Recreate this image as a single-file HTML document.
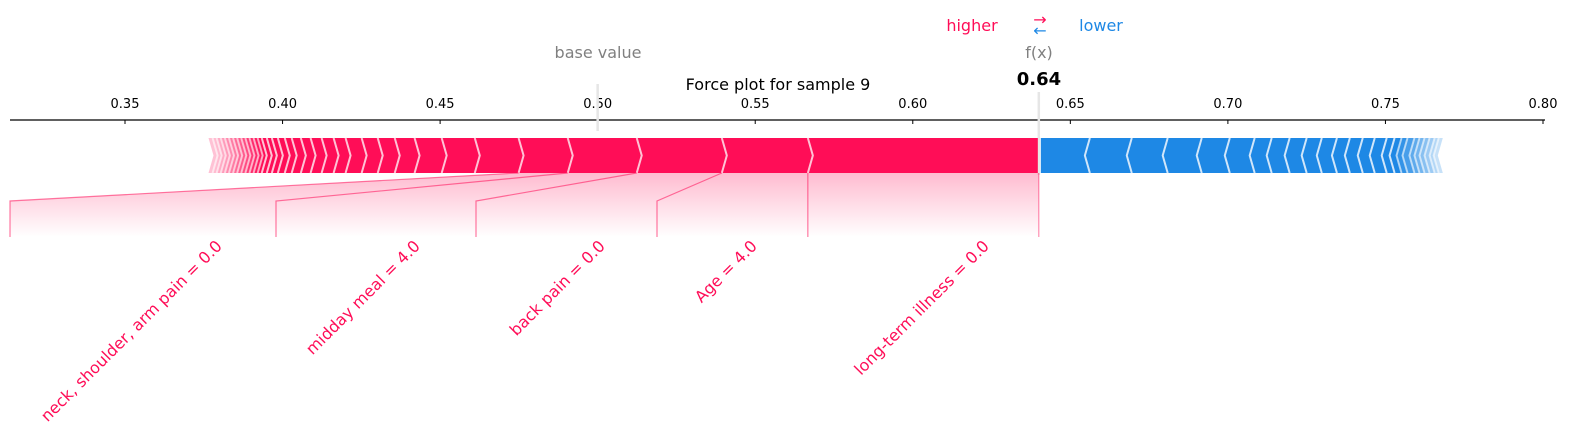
<!DOCTYPE html>
<html><head><meta charset="utf-8"><style>
html,body{margin:0;padding:0;background:#fff;}
svg{display:block;font-family:"DejaVu Sans","Liberation Sans",sans-serif;}
</style></head><body>
<svg id="chart" width="1581" height="433" viewBox="0 0 1581 433">
<defs>
<linearGradient id="fade" x1="0" y1="0" x2="0" y2="1">
<stop offset="0" stop-color="#ff0d57" stop-opacity="0.28"/>
<stop offset="1" stop-color="#ff0d57" stop-opacity="0"/>
</linearGradient>
</defs>
<g id="top-legend">
<text x="972" y="31" font-size="16" fill="#ff0d57" text-anchor="middle">higher</text>
<text x="1040" y="25" font-size="16" fill="#ff0d57" text-anchor="middle">→</text>
<text x="1040" y="36" font-size="16" fill="#1e88e5" text-anchor="middle">←</text>
<text x="1101" y="31" font-size="16" fill="#1e88e5" text-anchor="middle">lower</text>
</g>
<text x="598" y="58" font-size="16" fill="#808080" text-anchor="middle">base value</text>
<text x="1039" y="58" font-size="16" fill="#808080" text-anchor="middle">f(x)</text>
<text x="1039" y="85" font-size="18" font-weight="bold" fill="#000" text-anchor="middle">0.64</text>
<text x="778" y="90" font-size="16" fill="#000" text-anchor="middle">Force plot for sample 9</text>
<g id="axis"></g>
<g id="shade"></g>
<g id="bars"></g>
<g id="labels"></g>
</svg>
<script>
const ticks = [0.35,0.40,0.45,0.50,0.55,0.60,0.65,0.70,0.75,0.80];
const baseValue = 0.5;
const fx = 0.64;
const redNames = ["long-term illness = 0.0","Age = 4.0","back pain = 0.0","midday meal = 4.0","neck, shoulder, arm pain = 0.0"];
const redEffects = [0.0733,0.0273,0.0270,0.0219,0.0156,0.0139,0.0105,0.0086,0.0063,0.0054,0.0051,0.0051,0.0038,0.0038,0.0035,0.0031,0.0029,0.0022,0.0022,0.0019,0.0016,0.0016,0.0013,0.0013,0.0013,0.0013,0.0013,0.0013,0.0013,0.0013,0.0013,0.0013,0.0013,0.0013,0.0013];
const blueEffects = [0.0162,0.0133,0.0114,0.0108,0.0089,0.0079,0.0054,0.0057,0.0054,0.0048,0.0048,0.0041,0.0041,0.0038,0.0038,0.0025,0.0022,0.0019,0.0022,0.0016,0.0016,0.0016,0.0016,0.0013,0.0013];

const NS="http://www.w3.org/2000/svg";
const X0=125, XSCALE=(1543-125)/0.45;
function xs(v){return X0+(v-0.35)*XSCALE;}
function mk(tag,attrs,parent){const e=document.createElementNS(NS,tag);for(const k in attrs)e.setAttribute(k,attrs[k]);parent.appendChild(e);return e;}
const axis=document.getElementById('axis'),bars=document.getElementById('bars'),labels=document.getElementById('labels'),shade=document.getElementById('shade');
const TOP=138,BOT=173,MID=155.5,H=5;

let al=mk('line',{x1:10,x2:1545,y1:120,y2:120,stroke:'#000','stroke-width':1.2},axis);


ticks.forEach(t=>{
  const x=xs(t);
  let tk=mk('line',{x1:x,x2:x,y1:120,y2:124,stroke:'#000','stroke-width':1},axis);
  
  
  let tl=mk('text',{x:x,y:108,'font-size':13,'text-anchor':'middle',fill:'#000'},axis);
  tl.textContent=t.toFixed(2);
  
  
});
let bl=mk('line',{x1:xs(baseValue),x2:xs(baseValue),y1:84,y2:131,stroke:'#e6e6e6','stroke-width':2.5},axis);


let fl=mk('line',{x1:xs(fx),x2:xs(fx),y1:92,y2:175,stroke:'#e6e6e6','stroke-width':2.5},axis);



function fadeOp(i,n,k){const s=n-k;return i<s?1:Math.max(0.25,1-(i-s+1)/(k+1)*0.85);}

let cur=fx;
const redBounds=[];
redEffects.forEach((e,i)=>{
  const r=xs(cur), l=xs(cur-e);
  const op=fadeOp(i,redEffects.length,12);
  const rr=i===0?r-1:r;
  const pts=i===0?`${l},${TOP} ${rr},${TOP} ${rr},${BOT} ${l},${BOT} ${l+H},${MID}`:`${l},${TOP} ${rr},${TOP} ${rr+H},${MID} ${rr},${BOT} ${l},${BOT} ${l+H},${MID}`;
  let p=mk('polygon',{points:pts,fill:'#ff0d57','fill-opacity':op},bars);
  
  
  redBounds.push(l);
  cur-=e;
});
cur=fx;
redEffects.forEach((e,i)=>{
  const r=xs(cur);
  if(i>0){
    const op=fadeOp(i,redEffects.length,12);
    let s=mk('polyline',{points:`${r},${TOP} ${r+H},${MID} ${r},${BOT}`,fill:'none',stroke:op<1?'#ffffff':'#ffc3d5','stroke-opacity':op<1?0.6:1,'stroke-width':2},bars);
    
    
  }
  cur-=e;
});
cur=fx;
blueEffects.forEach((e,i)=>{
  const l=xs(cur), r=xs(cur+e);
  const op=fadeOp(i,blueEffects.length,8);
  const ll=i===0?l+2:l;
  const pts=i===0?`${ll},${TOP} ${r},${TOP} ${r-H},${MID} ${r},${BOT} ${ll},${BOT}`:`${ll},${TOP} ${r},${TOP} ${r-H},${MID} ${r},${BOT} ${ll},${BOT} ${ll-H},${MID}`;
  let p=mk('polygon',{points:pts,fill:'#1e88e5','fill-opacity':op},bars);
  
  
  if(i>0){
    let s=mk('polyline',{points:`${l},${TOP} ${l-H},${MID} ${l},${BOT}`,fill:'none',stroke:op<1?'#ffffff':'#d1e6fa','stroke-opacity':op<1?0.6:1,'stroke-width':2},bars);
    
    
  }
  cur+=e;
});

const lineX=[808,657,476,276,10];
const textEnd=[997,765,613,428,230];
const n=redNames.length;
const lastB=redBounds[n-1];
let sp=mk('polygon',{points:`${lineX[n-1]},237 ${lineX[n-1]},201 ${lastB},${BOT} ${xs(fx)},${BOT} ${xs(fx)},237`,fill:'url(#fade)'},shade);


let fv=mk('line',{x1:xs(fx),x2:xs(fx),y1:BOT,y2:237,stroke:'#ff0d57','stroke-opacity':0.55,'stroke-width':1},labels);


redNames.forEach((name,i)=>{
  const bx=redBounds[i], lx=lineX[i];
  const pts=i===0?`${bx},${BOT} ${bx},237`:`${bx},${BOT} ${lx},201 ${lx},237`;
  let c=mk('polyline',{points:pts,fill:'none',stroke:'#ff0d57','stroke-opacity':0.55,'stroke-width':1.2},labels);
  
  
  const tx=textEnd[i]-7, ty=247;
  let t=mk('text',{x:tx,y:ty,'font-size':16,fill:'#ff0d57','text-anchor':'end',transform:`rotate(-45 ${tx} ${ty})`},labels);
  t.textContent=name;
  
  
});
</script>
</body></html>
